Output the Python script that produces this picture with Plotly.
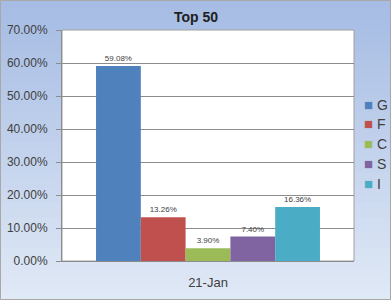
import plotly.graph_objects as go

categories = ["21-Jan"]
series_names = ["G", "F", "C", "S", "I"]
series_values = [0.5908, 0.1326, 0.0390, 0.0740, 0.1636]
series_colors = ["#4F81BD", "#C0504D", "#9BBB59", "#8064A2", "#4BACC6"]
y_ticks = [0, 0.1, 0.2, 0.3, 0.4, 0.5, 0.6, 0.7]

W, H = 391, 300
ML, MR, MT, MB = 62, 37, 30, 39
PW, PH = W - ML - MR, H - MT - MB

def px_x(px):
    return (px - ML) / PW

def px_y(py):
    return (H - MB - py) / PH

fig = go.Figure()
for name, val, col in zip(series_names, series_values, series_colors):
    fig.add_trace(go.Bar(
        x=categories, y=[val], name=name, marker_color=col,
        marker_line_width=0,
        text=[f"{val*100:.2f}%"], textposition="outside",
        textfont=dict(size=8, color="#404040", family="Liberation Sans"),
        cliponaxis=False, showlegend=False,
    ))

shapes = []
N = 40
top = (166, 188, 228)
bot = (224, 233, 246)
for i in range(N):
    t = i / (N - 1)
    c = tuple(int(top[k] + (bot[k] - top[k]) * t) for k in range(3))
    y0p = H * i / N
    y1p = H * (i + 1) / N + 1
    shapes.append(dict(type="rect", xref="paper", yref="paper",
                       x0=px_x(0), x1=px_x(W), y0=px_y(y1p), y1=px_y(y0p),
                       fillcolor="rgb(%d,%d,%d)" % c, line_width=0, layer="below"))
shapes.append(dict(type="rect", xref="paper", yref="paper",
                   x0=0, x1=1, y0=0, y1=1, fillcolor="white",
                   line=dict(color="#A0A0A0", width=1), layer="below"))
shapes.append(dict(type="rect", xref="paper", yref="paper",
                   x0=px_x(0.5), x1=px_x(W - 0.5), y0=px_y(H - 0.5), y1=px_y(0.5),
                   line=dict(color="#A8A8A8", width=1), layer="above"))

# legend drawn as text entries (symbol square + name)
annotations = []
leg_top, leg_step = 104, 19.8
for i, (name, col) in enumerate(zip(series_names, series_colors)):
    annotations.append(dict(
        xref="paper", yref="paper", x=px_x(362), y=px_y(leg_top + i * leg_step),
        xanchor="left", yanchor="middle", showarrow=False,
        text=f"<span style='color:{col};font-size:15px'>■</span> {name}",
        font=dict(size=14, color="#404040", family="Liberation Sans"),
    ))

fig.update_layout(
    width=W, height=H,
    margin=dict(l=ML, r=MR, t=MT, b=MB, autoexpand=False),
    paper_bgcolor="#C4D3EC", plot_bgcolor="white",
    barmode="group", bargap=0.233, bargroupgap=0,
    title=dict(text="<b>Top 50</b>", x=px_x(196), xref="paper", xanchor="center",
               y=1 - 17 / H, yanchor="middle",
               font=dict(size=14, color="#202020", family="Liberation Sans")),
    font=dict(family="Liberation Sans", color="#404040"),
    showlegend=False,
    shapes=shapes,
    annotations=annotations,
)
fig.update_yaxes(range=[0, 0.7], tickvals=y_ticks, tickformat=".2%",
                 showgrid=True, gridcolor="#8C8C8C", gridwidth=1,
                 ticks="outside", ticklen=5, tickcolor="#8C8C8C",
                 showline=True, linecolor="#8C8C8C",
                 ticklabelstandoff=6,
                 tickfont=dict(size=12, color="#404040"), zeroline=False)
fig.update_xaxes(showline=True, linecolor="#8C8C8C", ticks="",
                 ticklabelstandoff=9,
                 tickfont=dict(size=13, color="#404040"))

fig.write_html("out.html")
